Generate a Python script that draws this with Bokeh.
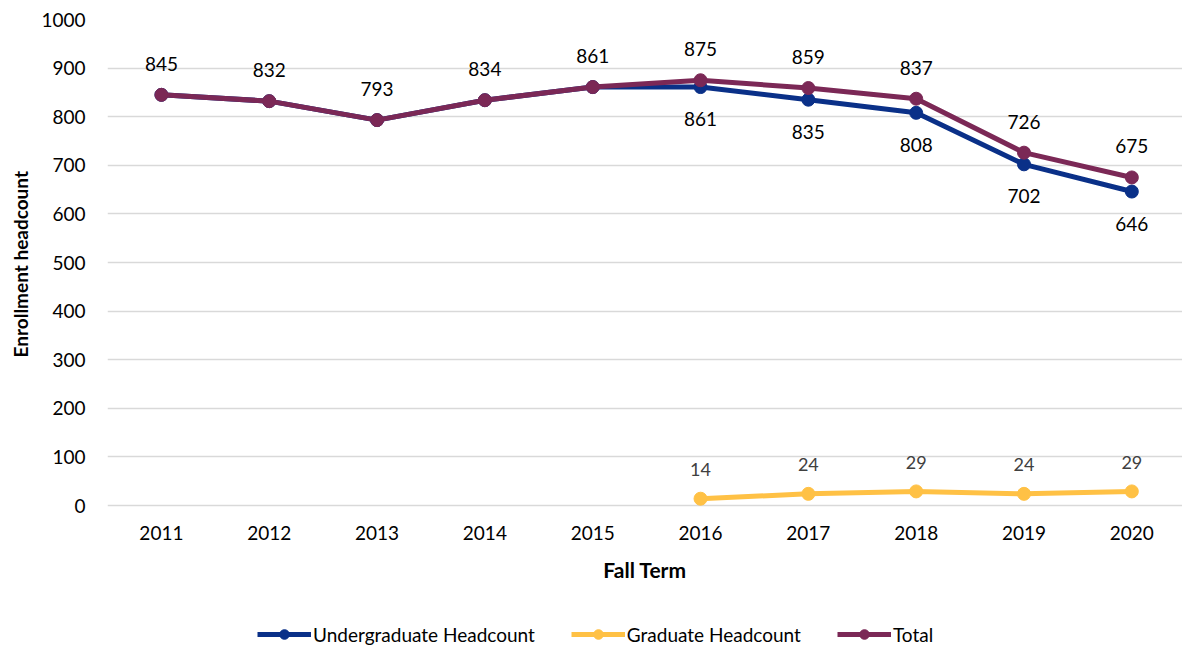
from bokeh.plotting import figure
from bokeh.models import Range1d, FixedTicker, Legend, LegendItem, ColumnDataSource, Title
from bokeh.embed import file_html
from bokeh.resources import INLINE
from bokeh.core.properties import value

years = [2011, 2012, 2013, 2014, 2015, 2016, 2017, 2018, 2019, 2020]
undergrad = [845, 832, 793, 834, 861, 861, 835, 808, 702, 646]
total = [845, 832, 793, 834, 861, 875, 859, 837, 726, 675]
grad_years = [2016, 2017, 2018, 2019, 2020]
graduate = [14, 24, 29, 24, 29]
y_ticks = [0, 100, 200, 300, 400, 500, 600, 700, 800, 900, 1000]

NAVY = "#0A3088"
GOLD = "#FFC145"
MAROON = "#7B2856"
FONT = "Lato"

# frame reaches the bottom of the canvas so that the legend can sit inside it;
# the value axis runs 0..1000 over the upper part
p = figure(width=1182, height=646, output_backend="svg", toolbar_location=None,
           x_range=Range1d(2010.5, 2020.47), y_range=Range1d(-290.1, 1000),
           min_border_left=107, min_border_top=19, min_border_right=0, min_border_bottom=0)
p.outline_line_color = None
p.background_fill_color = "white"
p.border_fill_color = "white"

p.xgrid.grid_line_color = None
p.ygrid.grid_line_color = "#D9D9D9"
p.ygrid.grid_line_width = 1.5
p.ygrid.ticker = FixedTicker(ticks=y_ticks)

p.yaxis.ticker = FixedTicker(ticks=y_ticks)
p.xaxis.ticker = FixedTicker(ticks=years)
p.xaxis.fixed_location = 0
for ax in (p.xaxis[0], p.yaxis[0]):
    ax.axis_line_color = None
    ax.major_tick_line_color = None
    ax.minor_tick_line_color = None
    ax.major_tick_out = 0
    ax.major_tick_in = 0
    ax.minor_tick_out = 0
    ax.major_label_text_font = FONT
    ax.major_label_text_font_size = "19px"
    ax.major_label_text_color = "#000000"
    ax.axis_label_text_font = FONT
    ax.axis_label_text_font_style = "bold"
    ax.axis_label_text_font_size = "21px"
    ax.axis_label_text_color = "#000000"

p.yaxis.major_label_standoff = 22
p.xaxis.axis_label = "Fall Term"
p.xaxis.major_label_standoff = 20
p.xaxis.axis_label_standoff = 14

ytitle = Title(text="Enrollment headcount", align="left", offset=289, vertical_align="top",
               standoff=10, text_font=FONT, text_font_style="bold", text_font_size="19px",
               text_color="#000000")
p.add_layout(ytitle, "left")

src_u = ColumnDataSource(dict(x=years, y=undergrad, t=[str(v) for v in undergrad]))
src_t = ColumnDataSource(dict(x=years, y=total, t=[str(v) for v in total]))
src_g = ColumnDataSource(dict(x=grad_years, y=graduate, t=[str(v) for v in graduate]))

lu = p.line("x", "y", source=src_u, line_color=NAVY, line_width=5)
su = p.scatter("x", "y", source=src_u, size=13, fill_color=NAVY, line_color=NAVY)
lg = p.line("x", "y", source=src_g, line_color=GOLD, line_width=5)
sg = p.scatter("x", "y", source=src_g, size=13, fill_color=GOLD, line_color=GOLD)
lt = p.line("x", "y", source=src_t, line_color=MAROON, line_width=5)
st = p.scatter("x", "y", source=src_t, size=13, fill_color=MAROON, line_color=MAROON)

# data labels
u_lab = ColumnDataSource(dict(x=years[5:], y=undergrad[5:], t=[str(v) for v in undergrad[5:]]))
p.text("x", "y", text="t", source=u_lab, y_offset=32, text_align="center", text_baseline="middle",
       text_font=value(FONT), text_font_size="19px", text_color="#000000")
p.text("x", "y", text="t", source=src_t, y_offset=-31, text_align="center", text_baseline="middle",
       text_font=value(FONT), text_font_size="19px", text_color="#000000")
p.text("x", "y", text="t", source=src_g, y_offset=-29, text_align="center", text_baseline="middle",
       text_font=value(FONT), text_font_size="18px", text_color="#404040")

legend = Legend(items=[
    LegendItem(label="Undergraduate Headcount", renderers=[lu, su]),
    LegendItem(label="Graduate Headcount", renderers=[lg, sg]),
    LegendItem(label="Total", renderers=[lt, st]),
], orientation="horizontal", location=(150, 0))
legend.label_text_font = FONT
legend.label_text_font_size = "19px"
legend.label_text_color = "#000000"
legend.glyph_width = 54
legend.glyph_height = 24
legend.label_standoff = 2
legend.spacing = 36
legend.padding = 0
legend.margin = 0
legend.border_line_color = None
legend.background_fill_alpha = 0
p.add_layout(legend, "center")

open("out.html", "w").write(file_html(p, INLINE))
